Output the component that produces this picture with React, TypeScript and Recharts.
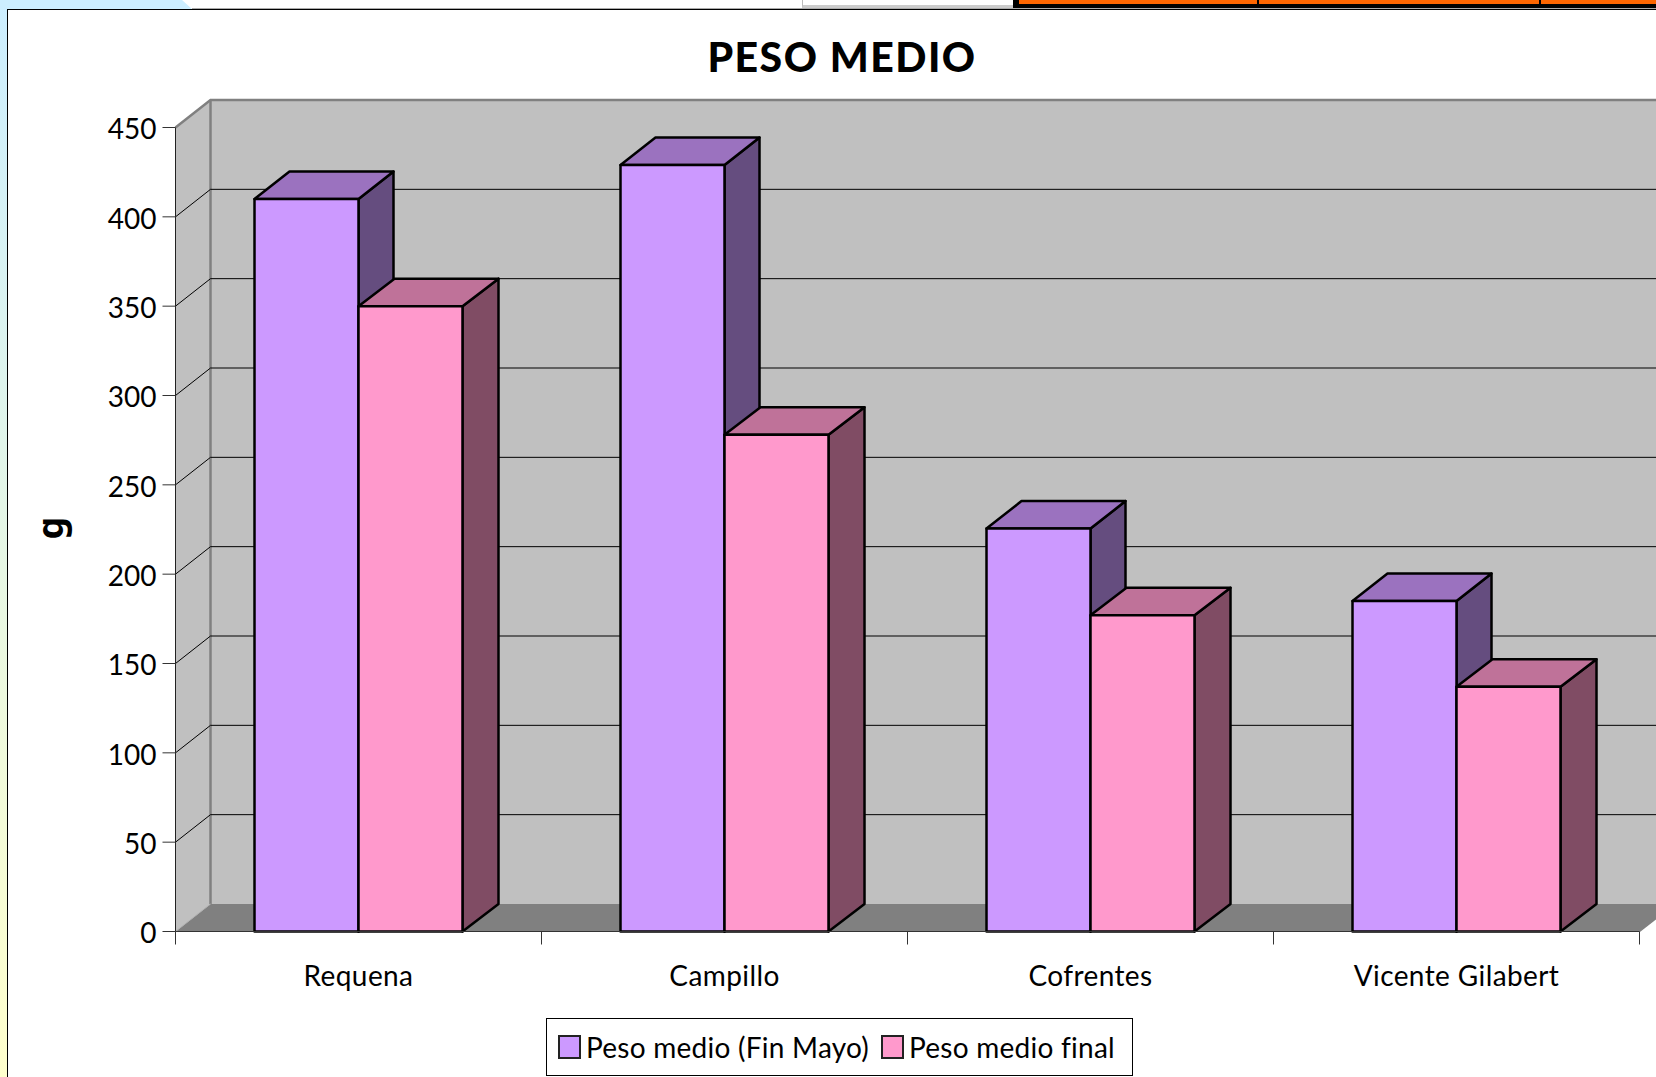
import React from 'react';
import {
  BarChart,
  Bar,
  XAxis,
  YAxis,
  CartesianGrid,
  ReferenceArea,
  Legend,
} from 'recharts';

const categories = ['Requena', 'Campillo', 'Cofrentes', 'Vicente Gilabert'];
const pesoFinMayo = [410, 429, 225.5, 185];
const pesoFinal = [350, 278, 177, 137];
const yTicks = [0, 50, 100, 150, 200, 250, 300, 350, 400, 450];

const data = categories.map((name, i) => ({
  name,
  finMayo: pesoFinMayo[i],
  final: pesoFinal[i],
}));

const WIDTH = 1656;
const HEIGHT = 1077;
const PLOT_LEFT = 175.5;
const PLOT_TOP = 127.5;
const PLOT_RIGHT = 1639.5;
const PLOT_BOTTOM = 931.5;
const BAND = (PLOT_RIGHT - PLOT_LEFT) / categories.length;
// perspective shift of the excel 3d box
const DX = 35;
const DY = 27.5;
const FONT = 'Lato, "Noto Sans", sans-serif';

const WallShape = ({ x, y, width, height }: any) => {
  const bottom = y + height;
  const right = x + width;
  return (
    <g>
      {/* back wall */}
      <rect x={x + DX} y={y - DY} width={width} height={height} fill="#c0c0c0" />
      {/* side wall */}
      <polygon
        points={`${x},${y} ${x + DX},${y - DY} ${x + DX},${bottom - DY} ${x},${bottom}`}
        fill="#c0c0c0"
      />
      {/* floor */}
      <polygon
        points={`${x},${bottom} ${x + DX},${bottom - DY} ${right + DX},${bottom - DY} ${right},${bottom}`}
        fill="#808080"
      />
      <path
        d={`M${x},${y} L${x + DX},${y - DY} L${right + DX},${y - DY}`}
        fill="none"
        stroke="#808080"
        strokeWidth={2.5}
      />
      <line x1={x + DX} y1={y - DY} x2={x + DX} y2={bottom - DY} stroke="#808080" strokeWidth={2.5} />
      <line x1={x} y1={bottom} x2={x + DX} y2={bottom - DY} stroke="#b0b0b0" strokeWidth={1} />
      <line x1={right} y1={bottom} x2={right + DX} y2={bottom - DY} stroke="#808080" strokeWidth={1.5} />
    </g>
  );
};

const GridLine3d = ({ x1, x2, y1 }: any) => {
  // first and last lines are the box edges
  if (y1 <= PLOT_TOP + 1 || y1 >= PLOT_BOTTOM - 1) return <g />;
  return (
    <path
      d={`M${x1},${y1} L${x1 + DX},${y1 - DY} L${x2 + DX},${y1 - DY}`}
      fill="none"
      stroke="#000"
      strokeWidth={1}
    />
  );
};

const makeBarShape = (topColor: string, sideColor: string, depth: number) => (props: any) => {
  const { x, y, width, height, fill } = props;
  const right = x + width;
  return (
    <g stroke="#000" strokeWidth={2.5} strokeLinejoin="round">
      <polygon
        points={`${right},${y} ${right + depth},${y - DY} ${right + depth},${y + height - DY} ${right},${y + height}`}
        fill={sideColor}
      />
      <polygon
        points={`${x},${y} ${x + depth},${y - DY} ${right + depth},${y - DY} ${right},${y}`}
        fill={topColor}
      />
      <rect x={x} y={y} width={width} height={height} fill={fill} />
    </g>
  );
};

const CategoryTick = ({ x, y, payload, index }: any) => (
  <g>
    <line x1={x - BAND / 2} y1={PLOT_BOTTOM} x2={x - BAND / 2} y2={PLOT_BOTTOM + 13} stroke="#333" />
    {index === categories.length - 1 && (
      <line x1={x + BAND / 2} y1={PLOT_BOTTOM} x2={x + BAND / 2} y2={PLOT_BOTTOM + 13} stroke="#333" />
    )}
    <text
      x={x}
      y={PLOT_BOTTOM + 54}
      textAnchor="middle"
      fontFamily={FONT}
      fontSize={28}
      letterSpacing={0.4}
      fill="#000"
    >
      {payload.value}
    </text>
  </g>
);

const LegendBox = ({ payload }: any) => (
  <div
    style={{
      boxSizing: 'border-box',
      width: 587,
      height: 58,
      border: '1px solid #000',
      background: '#fff',
      display: 'flex',
      alignItems: 'center',
      paddingLeft: 11,
      fontFamily: FONT,
      fontSize: 28,
      letterSpacing: 0.25,
      color: '#000',
    }}
  >
    {payload.map((entry: any) => (
      <span key={entry.value} style={{ display: 'flex', alignItems: 'center', marginRight: 12 }}>
        <span
          style={{
            boxSizing: 'border-box',
            width: 23,
            height: 24,
            background: entry.color,
            border: '2px solid #222',
            marginRight: 5,
          }}
        />
        {entry.value}
      </span>
    ))}
  </div>
);

const purple = makeBarShape('#9b72bf', '#654d7f', 35);
const pink = makeBarShape('#bf7299', '#804c64', 36);

export default function App() {
  return (
    <div
      style={{
        position: 'absolute',
        left: 0,
        top: 0,
        width: WIDTH,
        height: HEIGHT,
        overflow: 'hidden',
        background: '#fff',
      }}
    >
      {/* bits of the slide behind the chart */}
      <div
        style={{
          position: 'absolute',
          left: 0,
          top: 0,
          width: 7,
          height: HEIGHT,
          background: 'linear-gradient(#cceeff, #ffffcc)',
        }}
      />
      <div
        style={{
          position: 'absolute',
          left: 0,
          top: 0,
          width: 192,
          height: 9,
          background: '#cceeff',
          clipPath: 'polygon(0 0, 182px 0, 100% 100%, 0 100%)',
        }}
      />
      <div style={{ position: 'absolute', left: 192, top: 8, width: 1464, height: 1, background: '#aaa' }} />
      <div
        style={{
          position: 'absolute',
          left: 802,
          top: 0,
          width: 211,
          height: 8,
          boxSizing: 'border-box',
          borderLeft: '1px solid #bbb',
          borderBottom: '3px solid #ccc',
        }}
      />
      <div style={{ position: 'absolute', left: 1013, top: 0, width: 643, height: 8, background: '#000' }} />
      <div style={{ position: 'absolute', left: 1019, top: 0, width: 238, height: 4, background: '#ff6600' }} />
      <div style={{ position: 'absolute', left: 1259, top: 0, width: 280, height: 4, background: '#ff6600' }} />
      <div style={{ position: 'absolute', left: 1541, top: 0, width: 115, height: 4, background: '#ff6600' }} />
      <div
        style={{
          position: 'absolute',
          left: 7,
          top: 9,
          width: WIDTH,
          height: HEIGHT,
          boxSizing: 'border-box',
          borderLeft: '1px solid #000',
          borderTop: '1px solid #000',
        }}
      />

      <BarChart
        width={WIDTH}
        height={HEIGHT}
        data={data}
        barSize={104}
        barGap={0}
        margin={{ top: PLOT_TOP, right: WIDTH - PLOT_RIGHT, bottom: 0, left: 0 }}
        style={{ position: 'absolute', left: 0, top: 0 }}
      >
        <ReferenceArea y1={0} y2={450} ifOverflow="visible" shape={WallShape} zIndex={-500} />
        <CartesianGrid vertical={false} horizontal={GridLine3d as any} zIndex={-100} />
        <XAxis
          dataKey="name"
          height={HEIGHT - PLOT_BOTTOM}
          interval={0}
          tickLine={false}
          axisLine={{ stroke: '#333' }}
          tick={CategoryTick as any}
        />
        <YAxis
          width={PLOT_LEFT}
          domain={[0, 450]}
          ticks={yTicks}
          interval={0}
          tickSize={13}
          tickMargin={6}
          axisLine={{ stroke: '#222' }}
          tickLine={{ stroke: '#333' }}
          tick={{ fontFamily: FONT, fontSize: 28, fill: '#000', dy: 2 }}
        />
        <Bar
          dataKey="finMayo"
          name="Peso medio (Fin Mayo)"
          fill="#cc99ff"
          shape={purple}
          isAnimationActive={false}
        />
        <Bar
          dataKey="final"
          name="Peso medio final"
          fill="#ff99cc"
          shape={pink}
          isAnimationActive={false}
        />
        <Legend
          layout="horizontal"
          verticalAlign="middle"
          wrapperStyle={{ position: 'absolute', left: 546, top: 1018, width: 587, height: 58 }}
          content={LegendBox as any}
        />
        <text
          x={842}
          y={72}
          textAnchor="middle"
          fontFamily={FONT}
          fontSize={41}
          fontWeight={900}
          letterSpacing={1.5}
          fill="#000"
        >
          PESO MEDIO
        </text>
        <text
          x={63}
          y={528}
          textAnchor="middle"
          transform="rotate(-90 63 528)"
          fontFamily='"Noto Sans", sans-serif'
          fontSize={36}
          fontWeight={700}
          fill="#000"
        >
          g
        </text>
      </BarChart>
    </div>
  );
}
